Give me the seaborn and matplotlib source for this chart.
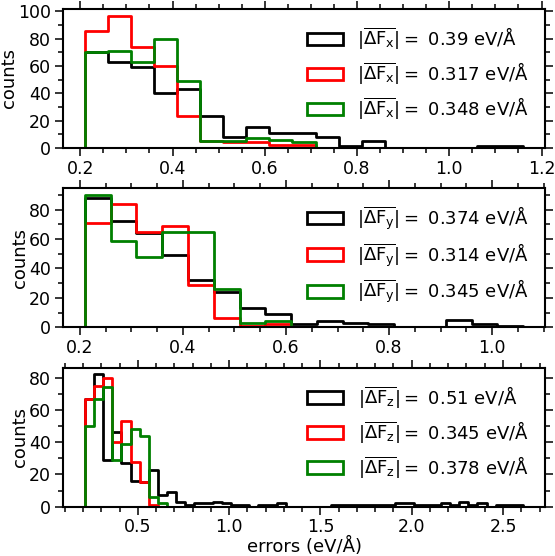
import numpy as np
import matplotlib
matplotlib.use("Agg")
import matplotlib.pyplot as plt
from matplotlib.ticker import AutoMinorLocator, MultipleLocator
import seaborn as sns

# histogram bins: all start at 0.21 eV/A, width 0.05
bin_start = 0.21
bin_width = 0.05

# Fx panel
fx_black = [70, 63, 59, 40, 43, 23, 8, 15, 11, 11, 8, 1, 5, 0, 0, 0, 0, 1, 1]
fx_red = [86, 97, 74, 60, 23, 5, 4, 4, 2, 2]
fx_green = [70, 71, 63, 80, 49, 5, 5, 7, 6, 4]
fx_means = ["0.39", "0.317", "0.348"]

# Fy panel
fy_black = [88, 72, 64, 49, 32, 24, 13, 9, 2, 4, 3, 2, 0, 0, 5, 2, 1]
fy_red = [71, 84, 65, 69, 29, 6, 1, 2]
fy_green = [90, 59, 48, 65, 65, 26, 3, 4]
fy_means = ["0.374", "0.314", "0.345"]

# Fz panel
fz_black = [67, 82, 29, 46, 27, 16, 15, 23, 7, 9, 3, 1, 2, 2, 3, 2, 1, 1, 0, 1, 1, 2,
            0, 0, 0, 0, 0, 1, 1, 1, 1, 1, 1, 1, 2, 2, 1, 1, 1, 2, 1, 3, 1, 2, 0, 1, 1, 1]
fz_red = [67, 75, 80, 40, 53, 28, 15, 1]
fz_green = [50, 67, 74, 29, 39, 48, 44, 6, 2]
fz_means = ["0.51", "0.345", "0.378"]

components = ["x", "y", "z"]
colors = ["black", "red", "green"]

plt.rcParams["font.family"] = ["DejaVu Sans"]
plt.rcParams["mathtext.fontset"] = "dejavusans"

fig, axes = plt.subplots(3, 1, figsize=(5.55, 5.56), dpi=100)
fig.subplots_adjust(left=0.1135, right=0.982, top=0.984, bottom=0.0887, hspace=0.292)

panels = [
    (fx_black, fx_red, fx_green, fx_means),
    (fy_black, fy_red, fy_green, fy_means),
    (fz_black, fz_red, fz_green, fz_means),
]

for ax, comp, (b, r, g, means) in zip(axes, components, panels):
    for counts, col, m in zip([b, r, g], colors, means):
        n = len(counts)
        edges = bin_start + bin_width * np.arange(n + 1)
        centers = edges[:-1] + bin_width / 2
        lab = r"$|\overline{\Delta \mathrm{F}_{\mathrm{%s}}}| = $ %s eV/Å" % (comp, m)
        sns.histplot(x=centers, weights=counts, bins=list(edges), element="step",
                     fill=True, facecolor="none", color=col, linewidth=2,
                     label=lab, ax=ax)
    ax.set_ylabel("counts", fontsize=13, labelpad=0)
    ax.set_xlabel("")
    ax.xaxis.set_minor_locator(AutoMinorLocator())
    ax.yaxis.set_major_locator(MultipleLocator(20))
    ax.yaxis.set_minor_locator(MultipleLocator(10))
    ax.tick_params(which="both", top=True, right=True, direction="out",
                   labelsize=12.5, width=1.1)
    ax.tick_params(which="major", length=6, pad=2.5)
    ax.tick_params(which="minor", length=3.5)
    for s in ax.spines.values():
        s.set_linewidth(1.5)
    ax.legend(loc="upper right", frameon=False, fontsize=13)

axes[2].set_xlabel("errors (eV/Å)", fontsize=13, labelpad=0)

fig.savefig("out.png", dpi=100)
